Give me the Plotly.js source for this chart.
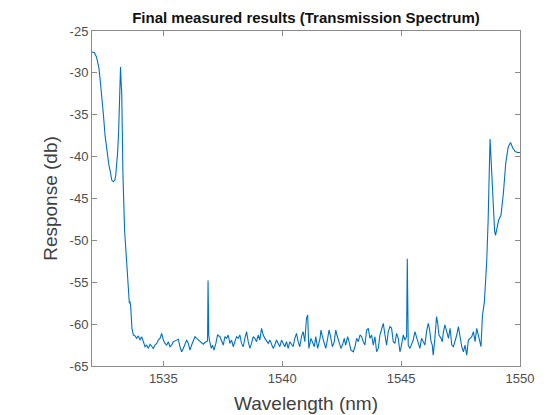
<!DOCTYPE html>
<html>
<head>
<meta charset="utf-8">
<script src="https://cdn.plot.ly/plotly-3.0.1.min.js"></script>
<style>html,body{margin:0;padding:0;background:#fff;}#chart{width:549px;height:415px;}</style>
</head>
<body>
<div id="chart"></div>
<script>
// Wavelength (nm) and response (dB)
const wavelength = [
1532.00,1532.10,1532.19,1532.25,1532.29,1532.35,1532.40,1532.48,1532.55,1532.62,
1532.71,1532.77,1532.83,1532.90,1532.96,1533.00,1533.05,1533.08,1533.12,1533.15,
1533.18,1533.20,1533.23,1533.25,1533.30,1533.34,1533.37,1533.46,1533.53,1533.57,
1533.60,1533.63,1533.68,1533.71,
1533.74,1533.81,1533.88,1533.95,1534.02,1534.09,1534.16,1534.23,1534.30,1534.37,
1534.44,1534.51,1534.58,1534.65,1534.72,1534.79,1534.86,1534.93,1535.00,1535.07,
1535.14,1535.21,1535.28,1535.35,1535.42,1535.49,1535.56,1535.63,1535.70,1535.77,
1535.84,1535.91,1535.98,1536.05,1536.12,1536.19,1536.26,1536.33,1536.40,1536.47,
1536.54,1536.61,1536.68,1536.75,1536.82,1536.86,1536.88,1536.91,1536.95,1537.02,
1537.07,1537.13,1537.21,1537.28,
1537.38,1537.45,1537.52,1537.59,1537.66,1537.73,1537.80,1537.87,1537.94,1538.01,
1538.08,1538.15,1538.22,1538.29,1538.36,1538.43,1538.50,1538.57,1538.64,1538.71,
1538.78,1538.85,1538.92,1538.99,1539.06,1539.13,1539.20,1539.27,1539.34,1539.41,
1539.48,1539.55,1539.62,1539.69,1539.76,1539.83,1539.90,1539.97,1540.04,1540.11,
1540.18,1540.25,1540.32,1540.39,1540.46,1540.53,1540.60,1540.67,1540.74,1540.81,
1540.88,1540.95,1541.02,1541.07,1541.12,
1541.21,1541.27,1541.35,1541.41,1541.49,1541.59,1541.63,1541.69,1541.77,1541.83,
1541.91,1541.97,1542.02,1542.11,1542.19,1542.25,1542.30,1542.39,1542.47,1542.53,
1542.61,1542.67,1542.75,1542.81,1542.89,1542.99,1543.06,1543.13,1543.20,1543.27,
1543.34,1543.41,1543.48,1543.55,1543.62,1543.69,1543.76,1543.83,1543.90,1543.97,
1544.04,1544.11,1544.18,1544.25,1544.32,1544.39,1544.46,1544.53,1544.60,1544.67,
1544.74,1544.81,1544.88,1544.95,
1544.99,1545.05,1545.09,1545.16,1545.23,1545.26,1545.30,1545.37,1545.44,1545.51,
1545.58,1545.65,1545.72,1545.79,1545.86,1545.93,1546.00,1546.07,1546.14,1546.19,
1546.26,1546.31,1546.35,1546.42,1546.49,1546.54,1546.59,1546.68,1546.73,1546.77,
1546.84,1546.92,1546.99,1547.06,1547.13,1547.20,1547.27,1547.34,1547.41,1547.48,
1547.55,1547.62,1547.69,1547.76,1547.83,1547.90,1547.97,1548.04,1548.11,1548.18,
1548.25,1548.32,1548.36,
1548.42,1548.46,1548.50,1548.55,1548.60,1548.66,1548.70,1548.74,1548.77,1548.80,
1548.87,1548.93,1548.97,1549.00,1549.03,1549.10,1549.20,1549.30,1549.40,1549.50,
1549.60,1549.70,1549.80,1549.90,1550.00
];
const response = [
-27.5,-27.6,-28.1,-28.8,-29.4,-31.0,-32.4,-35.0,-37.5,-39.3,
-41.0,-41.8,-42.8,-43.0,-42.8,-42.2,-40.8,-39.4,-37.0,-34.2,
-31.5,-29.3,-31.5,-32.3,-42.0,-46.0,-48.8,-52.7,-56.9,-57.5,
-57.3,-58.0,-60.5,-61.3,
-61.3,-61.4,-61.7,-61.4,-61.9,-61.5,-62.1,-62.7,-62.5,-62.9,
-62.4,-62.7,-62.9,-62.5,-62.3,-61.9,-61.7,-61.1,-61.9,-62.3,
-62.5,-62.1,-62.7,-62.5,-62.1,-62.0,-61.9,-61.8,-62.7,-63.3,
-62.9,-62.5,-61.9,-62.3,-63.1,-62.5,-61.9,-61.5,-61.7,-61.9,
-62.1,-62.3,-62.4,-62.2,-62.1,-62.0,-54.8,-61.3,-62.1,-62.9,
-62.5,-63.1,-62.3,-61.3,
-61.5,-62.1,-62.5,-61.5,-61.7,-61.3,-62.3,-61.9,-62.7,-62.1,
-61.5,-61.7,-61.3,-62.3,-62.7,-61.7,-60.9,-62.1,-62.9,-62.3,
-61.5,-61.7,-62.1,-61.3,-61.9,-60.5,-61.3,-61.7,-62.1,-62.3,
-61.9,-62.5,-62.9,-62.5,-61.9,-62.3,-62.7,-61.9,-62.3,-62.7,
-62.1,-62.9,-62.1,-62.5,-62.7,-61.7,-61.1,-62.1,-62.7,-61.5,
-60.9,-62.1,-59.3,-58.9,-62.9,
-61.7,-62.1,-62.7,-61.5,-62.9,-61.7,-60.7,-61.5,-62.5,-62.9,
-61.7,-60.7,-61.3,-62.7,-62.1,-60.7,-61.3,-62.3,-62.9,-62.5,
-61.7,-62.5,-61.5,-62.1,-63.1,-63.3,-62.7,-61.7,-62.1,-61.3,
-61.5,-62.1,-62.5,-60.7,-60.5,-61.7,-61.3,-62.5,-61.5,-63.3,
-62.9,-61.3,-60.5,-59.9,-61.3,-62.5,-60.9,-60.3,-60.5,-62.1,
-62.3,-61.1,-61.7,-63.3,
-62.9,-61.7,-61.3,-61.9,-61.5,-52.2,-62.5,-62.9,-62.5,-61.9,
-60.9,-61.5,-62.1,-62.9,-61.7,-62.1,-62.5,-60.9,-59.9,-60.5,
-62.1,-62.5,-63.7,-61.7,-59.1,-59.9,-61.3,-61.7,-62.1,-61.1,
-60.1,-60.9,-61.7,-60.5,-62.5,-62.7,-62.1,-61.3,-60.3,-61.5,
-62.7,-63.3,-62.5,-63.7,-61.9,-61.7,-61.5,-60.9,-62.1,-60.5,
-61.3,-62.1,-62.7,
-59.0,-57.9,-57.4,-55.0,-52.5,-47.6,-42.5,-37.9,-39.5,-41.6,
-46.8,-48.8,-49.4,-48.9,-48.4,-47.6,-47.0,-44.4,-40.8,-38.9,
-38.3,-39.0,-39.4,-39.5,-39.5
];
const xTicks = [1535, 1540, 1545, 1550];
const yTicks = [-65, -60, -55, -50, -45, -40, -35, -30, -25];
const yTickLabels = ['-65', '-60', '-55', '-50', '-45', '-40', '-35', '-30', '-25'];

const axisCommon = {
  showline: true, linecolor: '#8a8a8a', linewidth: 1, mirror: 'ticks',
  ticks: 'inside', ticklen: 5, tickcolor: '#8a8a8a', tickwidth: 1,
  showgrid: false, zeroline: false,
  tickfont: {family: 'Arial, "Liberation Sans", sans-serif', size: 13, color: '#4d4d4d'}
};

const trace = {
  x: wavelength, y: response, type: 'scatter', mode: 'lines',
  line: {color: '#0072BD', width: 1.1}, hoverinfo: 'skip', showlegend: false
};

const layout = {
  width: 549, height: 415,
  margin: {l: 92, r: 29, t: 31, b: 49},
  paper_bgcolor: '#ffffff', plot_bgcolor: '#ffffff',
  title: {
    text: '<b>Final measured results (Transmission Spectrum)</b>',
    font: {family: 'Arial, "Liberation Sans", sans-serif', size: 15, color: '#111111'},
    x: 0.5, xref: 'paper', y: 1 - 18/415, yref: 'container', yanchor: 'middle'
  },
  xaxis: Object.assign({}, axisCommon, {
    range: [1532, 1550], tickmode: 'array', tickvals: xTicks,
    title: {text: 'Wavelength (nm)', standoff: 12,
      font: {family: 'Arial, "Liberation Sans", sans-serif', size: 19, color: '#404040'}}
  }),
  yaxis: Object.assign({}, axisCommon, {
    range: [-65, -25], tickmode: 'array', tickvals: yTicks, ticktext: yTickLabels,
    title: {text: 'Response (db)', standoff: 6,
      font: {family: 'Arial, "Liberation Sans", sans-serif', size: 19, color: '#404040'}}
  })
};

Plotly.newPlot('chart', [trace], layout, {staticPlot: true, displayModeBar: false});
</script>
</body>
</html>
